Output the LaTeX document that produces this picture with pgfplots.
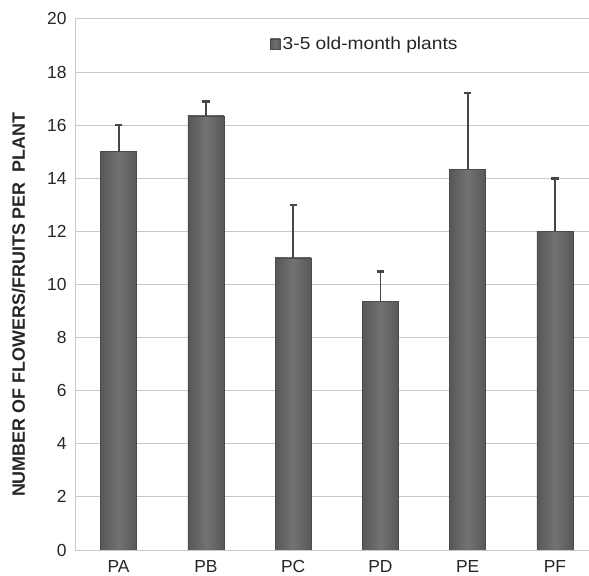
\documentclass[border=0pt]{standalone}
\usepackage{pgfplots}
\pgfplotsset{compat=1.18}
\usepackage{fontspec}
\setmainfont{Liberation Sans}
\newfontfamily\widefont[FakeStretch=1.1]{Liberation Sans}
\definecolor{baredge}{RGB}{88,88,88}
\definecolor{barmid}{RGB}{114,114,114}
\definecolor{barline}{RGB}{75,75,75}
\definecolor{errc}{RGB}{70,70,70}
\definecolor{gridc}{RGB}{200,200,200}
\pgfplotsset{
  mybar/.style={ybar, bar width=36bp, bar shift=0pt, draw=barline, line width=0.8bp,
    left color=baredge, right color=baredge, middle color=barmid,
    error bars/.cd, y dir=plus, y explicit,
    error bar style={draw=errc, line width=1.8bp, fill=none},
    error mark options={rotate=90, mark size=3.6bp, line width=2.6bp, draw=errc},
    /pgfplots/.cd},
}
\begin{document}
\begin{tikzpicture}
\path[use as bounding box] (0,0) rectangle (589bp,576bp);
\begin{axis}[
  at={(75bp,26bp)}, anchor=south west,
  scale only axis, width=514bp, height=531bp,
  xmin=-0.5, xmax=5.39, ymin=0, ymax=20,
  ytick={0,2,...,20},
  xtick={0,...,5}, xticklabels={PA,PB,PC,PD,PE,PF},
  ymajorgrids, grid style={gridc, line width=1bp},
  axis x line*=bottom, axis y line*=left,
  axis line style={-, gridc, line width=1bp},
  major tick length=0pt,
  tick label style={font=\fontsize{17.5}{20}\selectfont, text=black!85},
  yticklabel style={xshift=-5bp},
  xticklabel style={yshift=-7bp},
  /pgf/number format/assume math mode=true,
  ylabel={NUMBER OF FLOWERS/FRUITS PER\ \ PLANT},
  ylabel style={at={(axis description cs:-0.110,0.462)}, anchor=center, font=\bfseries\fontsize{18}{20}\selectfont, text=black!85},
  legend style={draw=none, fill=none, at={(0.373,0.953)}, anchor=west, font=\widefont\fontsize{17.5}{20}\selectfont, text=black!85},
  legend image code/.code={\draw[draw=barline, fill=barmid!85!black] (0bp,-5bp) rectangle (10bp,5bp);},
]
\addplot[mybar] coordinates {(0,15) +- (0,1.0)};
\addlegendentry{3-5 old-month plants}
\addplot[forget plot, mybar] coordinates {(1,16.35) +- (0,0.55)};
\addplot[forget plot, mybar] coordinates {(2,11.0) +- (0,2.0)};
\addplot[forget plot, mybar] coordinates {(3,9.35) +- (0,1.15)};
\addplot[forget plot, mybar] coordinates {(4,14.35) +- (0,2.87)};
\addplot[forget plot, mybar] coordinates {(5,12.0) +- (0,2.0)};
\end{axis}
\end{tikzpicture}
\end{document}
